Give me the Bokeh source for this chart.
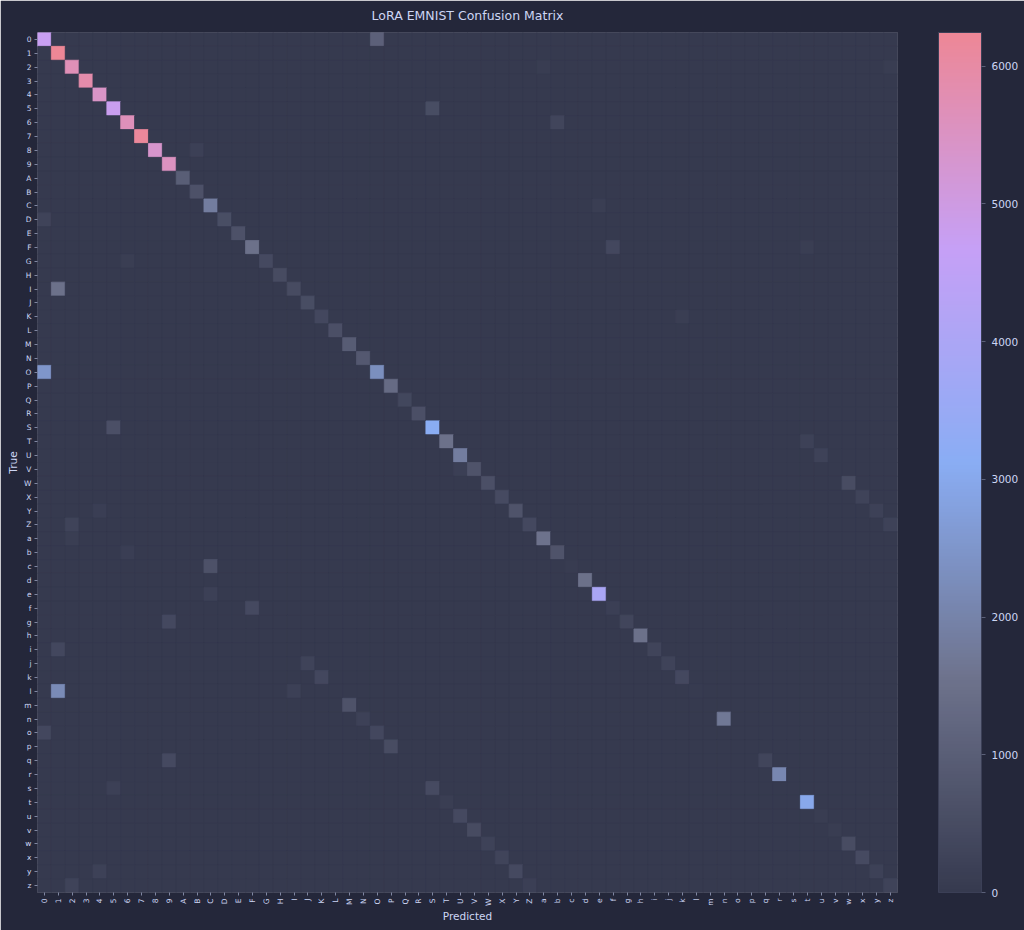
import math
import numpy as np
from bokeh.plotting import figure
from bokeh.models import ColumnDataSource, LinearColorMapper, ColorBar, FixedTicker
from bokeh.transform import transform
from bokeh.embed import file_html
from bokeh.resources import INLINE

# ---------------- data ----------------
labels = list("0123456789ABCDEFGHIJKLMNOPQRSTUVWXYZabcdefghijklmnopqrstuvwxyz")

# correct predictions (diagonal), in label order
diag_counts = [
    4750, 6245, 5700, 5900, 5450, 4800, 5650, 6150, 5350, 5550,          # 0-9
    980, 650, 1850, 550, 650, 1500, 420, 480, 480, 520, 380, 600, 950,    # A-M
    850, 2300, 1350, 350, 600, 3100, 1500, 1850, 700, 600, 450, 700, 400, # N-Z
    1550, 700, 60, 1500, 3930, 150, 300, 1500, 280, 250, 400, 30, 20,     # a-m
    1700, 20, 20, 300, 2100, 20, 2980, 80, 80, 500, 450, 200, 250,        # n-z
]

# notable confusions: true label, predicted label, count
off_true = ["0", "2", "2", "5", "6", "8", "C", "D", "F", "F", "G", "I", "K",
            "O", "S", "T", "U", "V", "W", "X", "Y", "Y", "Z", "Z", "a", "b",
            "c", "e", "f", "g", "i", "j", "k", "l", "l", "m", "n", "o", "o",
            "p", "q", "s", "s", "t", "u", "v", "w", "x", "y", "y", "z", "z"]
off_pred = ["O", "a", "z", "S", "b", "B", "e", "0", "f", "t", "6", "1", "k",
            "0", "5", "t", "u", "U", "w", "x", "4", "y", "2", "z", "2", "6",
            "C", "C", "F", "9", "1", "J", "K", "1", "I", "M", "N", "0", "O",
            "P", "9", "5", "S", "T", "U", "V", "W", "X", "4", "Y", "2", "Z"]
off_count = [1050, 80, 80, 520, 300, 180, 120, 250, 380, 120, 110, 1500, 100,
             2500, 600, 200, 220, 150, 500, 250, 130, 200, 250, 230, 120, 130,
             650, 180, 420, 400, 380, 260, 380, 2200, 180, 680, 200, 380, 380,
             500, 420, 180, 450, 120, 420, 480, 220, 280, 200, 420, 260, 150]

cbar_ticks = [0, 1000, 2000, 3000, 4000, 5000, 6000]
vmax = 6245

# ---------------- build table ----------------
n = len(labels)
idx = {c: i for i, c in enumerate(labels)}
mat = np.zeros((n, n))
for i, v in enumerate(diag_counts):
    mat[i, i] = v
for t, pr, c in zip(off_true, off_pred, off_count):
    mat[idx[t], idx[pr]] = c

xs, ys, vs = [], [], []
for i, t in enumerate(labels):
    for j, pr in enumerate(labels):
        xs.append(pr)
        ys.append(t)
        vs.append(mat[i, j])
src = ColumnDataSource(dict(pred=xs, true=ys, count=vs))

# ---------------- palette ----------------
stops = ["#363a4f", "#6e738d", "#8aadf4", "#c6a0f6", "#ed8796"]
def hex2rgb(h):
    h = h.lstrip("#")
    return [int(h[k:k + 2], 16) for k in (0, 2, 4)]
srgb = [hex2rgb(s) for s in stops]
palette = []
N = 256
for k in range(N):
    f = k / (N - 1) * (len(stops) - 1)
    a = min(int(f), len(stops) - 2)
    u = f - a
    c = [round(srgb[a][m] * (1 - u) + srgb[a + 1][m] * u) for m in range(3)]
    palette.append("#%02x%02x%02x" % tuple(c))

mapper = LinearColorMapper(palette=palette, low=0, high=vmax)

BG = "#24273a"
TXT = "#cdd6f4"
FONT = "DejaVu Sans"

p = figure(width=1024, height=930, x_range=labels, y_range=list(reversed(labels)),
           output_backend="svg", toolbar_location=None,
           title="LoRA EMNIST Confusion Matrix",
           min_border_left=37, min_border_top=32, min_border_bottom=38,
           min_border_right=127)
p.background_fill_color = BG
p.border_fill_color = BG
p.outline_line_color = None
p.grid.grid_line_color = None

p.rect(x="pred", y="true", width=1, height=1, source=src,
       fill_color=transform("count", mapper),
       line_color=transform("count", mapper), line_width=0.8)

p.title.align = "center"
p.title.vertical_align = "top"
p.title.text_color = TXT
p.title.text_font = FONT
p.title.text_font_size = "12.5px"
p.title.text_font_style = "normal"
p.title.standoff = 15

for ax in (p.xaxis[0], p.yaxis[0]):
    ax.axis_line_color = None
    ax.major_tick_line_color = "#8087a2"
    ax.major_tick_out = 3
    ax.major_tick_in = 0
    ax.minor_tick_line_color = None
    ax.major_label_text_color = TXT
    ax.major_label_text_font = FONT
    ax.major_label_text_font_size = "7.5px"
    ax.major_label_standoff = 3
    ax.axis_label_text_color = TXT
    ax.axis_label_text_font = FONT
    ax.axis_label_text_font_size = "10.5px"
    ax.axis_label_text_font_style = "normal"
    ax.axis_label_standoff = 4

p.xaxis.axis_label = "Predicted"
p.yaxis.axis_label = "True"
p.xaxis.major_label_orientation = math.pi / 2
p.xaxis.axis_label_standoff = 1
p.yaxis.axis_label_standoff = 2

cb = ColorBar(color_mapper=mapper, width=43, height=860,
              ticker=FixedTicker(ticks=cbar_ticks),
              margin=0, padding=0, location=(41, 0),
              background_fill_alpha=0,
              bar_line_color="#3b3f56",
              major_label_text_color=TXT, major_label_text_font=FONT,
              major_label_text_font_size="10.5px", label_standoff=6,
              major_tick_line_color="#5b6078", major_tick_out=4, major_tick_in=0,
              minor_tick_line_color=None)
p.add_layout(cb, "right")

open("out.html", "w").write(file_html(p, INLINE))
